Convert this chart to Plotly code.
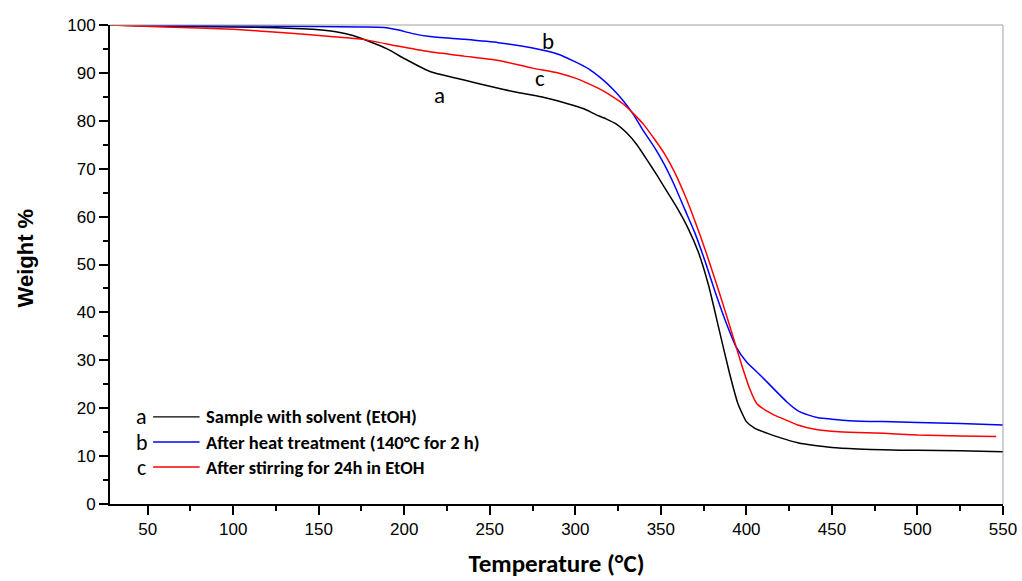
import plotly.graph_objects as go

# TGA curves: temperature (°C) and remaining weight (%)
temp_a = [28, 50, 75, 100, 125, 140, 150, 160, 170, 180, 190, 200, 208, 215, 222, 235, 250,
          265, 280, 295, 305, 312, 318, 324, 330, 336, 342, 348, 354, 360, 366, 372, 378,
          384, 390, 395, 400, 405, 412, 420, 430, 440, 450, 465, 480, 500, 525, 550]
weight_a = [100, 99.8, 99.7, 99.6, 99.4, 99.2, 99.0, 98.6, 97.8, 96.5, 95.0, 93.0, 91.5, 90.3,
            89.6, 88.5, 87.2, 86.0, 85.0, 83.6, 82.5, 81.3, 80.4, 79.3, 77.5, 75.0, 71.8,
            68.5, 65.0, 61.5, 57.5, 52.5, 45.5, 36.5, 27.5, 21.0, 17.2, 15.8, 14.8, 13.8,
            12.8, 12.2, 11.8, 11.5, 11.3, 11.2, 11.1, 10.9]

temp_b = [28, 60, 100, 150, 175, 188, 196, 205, 215, 235, 255, 275, 290, 300, 308, 315, 322,
          328, 334, 340, 346, 352, 358, 364, 370, 376, 382, 388, 394, 400, 406, 412, 418,
          424, 430, 436, 442, 450, 460, 480, 500, 525, 550]
weight_b = [100, 99.9, 99.8, 99.7, 99.6, 99.5, 99.0, 98.2, 97.6, 97.0, 96.3, 95.2, 93.9, 92.3,
            90.8, 88.9, 86.6, 84.2, 81.3, 77.8, 74.6, 70.9, 66.5, 61.5, 56.5, 50.5, 44.0,
            38.0, 32.8, 29.7, 27.6, 25.5, 23.3, 21.2, 19.5, 18.6, 18.0, 17.7, 17.4, 17.2,
            17.0, 16.8, 16.5]

temp_c = [28, 60, 100, 130, 157, 176, 196, 215, 235, 255, 275, 290, 300, 308, 315, 322, 328,
          334, 340, 346, 352, 358, 364, 370, 376, 382, 388, 394, 398, 402, 406, 412, 418,
          424, 430, 440, 450, 460, 480, 500, 525, 546]
weight_c = [100, 99.6, 99.1, 98.4, 97.6, 97.0, 95.6, 94.4, 93.5, 92.6, 91.0, 90.0, 88.9, 87.7,
            86.5, 85.0, 83.5, 81.5, 79.2, 76.3, 73.2, 69.3, 64.5, 59.0, 53.0, 46.5, 39.8,
            32.8, 28.2, 24.0, 21.0, 19.4, 18.3, 17.4, 16.5, 15.6, 15.2, 15.0, 14.75, 14.4,
            14.2, 14.1]

series_keys = ["a", "b", "c"]
series_names = ["Sample with solvent (EtOH)",
                "After heat treatment (140°C for 2 h)",
                "After stirring for 24h in EtOH"]
series_colors = ["#000000", "#0000FF", "#FF0000"]

# Letters placed beside each curve (temperature, weight)
curve_label_x = [220.5, 284.0, 279.5]
curve_label_y = [85.3, 96.6, 88.9]

x_ticks = [50, 100, 150, 200, 250, 300, 350, 400, 450, 500, 550]
y_ticks = [0, 10, 20, 30, 40, 50, 60, 70, 80, 90, 100]

fig = go.Figure()
for t, w, col, name in zip([temp_a, temp_b, temp_c], [weight_a, weight_b, weight_c],
                           series_colors, series_names):
    fig.add_trace(go.Scatter(x=t, y=w, mode="lines", name=name,
                             line=dict(color=col, width=1.5, shape="spline", smoothing=0.5),
                             showlegend=False))

label_font = "Calibri, Carlito, Lato, sans-serif"
arial = "Liberation Sans, Arial, sans-serif"

for key, lx, ly in zip(series_keys, curve_label_x, curve_label_y):
    fig.add_annotation(x=lx, y=ly, xref="x", yref="y", text=key, showarrow=False,
                       font=dict(family=label_font, size=23, color="#000000"))

# Hand-built legend at lower left
row_y = [0.1817, 0.1294, 0.0772]
for key, name, col, ry in zip(series_keys, series_names, series_colors, row_y):
    fig.add_annotation(x=0.0355, y=ry, xref="paper", yref="paper", text=key,
                       showarrow=False, xanchor="center", yanchor="middle",
                       font=dict(family=label_font, size=22, color="#000000"))
    fig.add_shape(type="line", xref="paper", yref="paper", x0=0.0483, x1=0.1003,
                  y0=ry, y1=ry, line=dict(color=col, width=1.3))
    fig.add_annotation(x=0.1050, y=ry, xref="paper", yref="paper", text="<b>%s</b>" % name,
                       showarrow=False, xanchor="left", yanchor="middle",
                       font=dict(family=label_font, size=18.5, color="#000000"))

# Y-axis title, placed slightly above the plot centre
fig.add_annotation(x=-0.0945, y=0.514, xref="paper", yref="paper", text="<b>Weight %</b>",
                   textangle=-90, showarrow=False, xanchor="center", yanchor="middle",
                   font=dict(family=arial, size=22, color="#000000"))

# Thin grey frame on top and right
fig.add_shape(type="line", xref="paper", yref="paper", x0=0, x1=1, y0=1, y1=1,
              line=dict(color="#a0a0a0", width=1))
fig.add_shape(type="line", xref="paper", yref="paper", x0=1, x1=1, y0=0, y1=1,
              line=dict(color="#a0a0a0", width=1))

tick_font = dict(family=arial, size=17, color="#000000")

fig.update_layout(
    width=1022, height=581,
    margin=dict(l=110, r=19, t=25, b=77),
    plot_bgcolor="white", paper_bgcolor="white",
    xaxis=dict(range=[28, 550], tickvals=x_ticks, ticks="outside", ticklen=9, tickwidth=2,
               tickcolor="#000000", showline=True, linecolor="#000000", linewidth=2,
               showgrid=False, zeroline=False, tickfont=tick_font, automargin=False,
               minor=dict(dtick=25, tick0=0, ticks="outside", ticklen=5, tickwidth=2,
                          tickcolor="#000000", showgrid=False),
               title=dict(text="<b>Temperature (°C)</b>", standoff=16,
                          font=dict(family=label_font, size=25, color="#000000"))),
    yaxis=dict(range=[0, 100], tickvals=y_ticks, ticks="outside", ticklen=9, tickwidth=2,
               tickcolor="#000000", showline=True, linecolor="#000000", linewidth=2,
               showgrid=False, zeroline=False, tickfont=tick_font, automargin=False,
               minor=dict(dtick=5, tick0=0, ticks="outside", ticklen=5, tickwidth=2,
                          tickcolor="#000000", showgrid=False)),
)

fig.write_html("out.html")
